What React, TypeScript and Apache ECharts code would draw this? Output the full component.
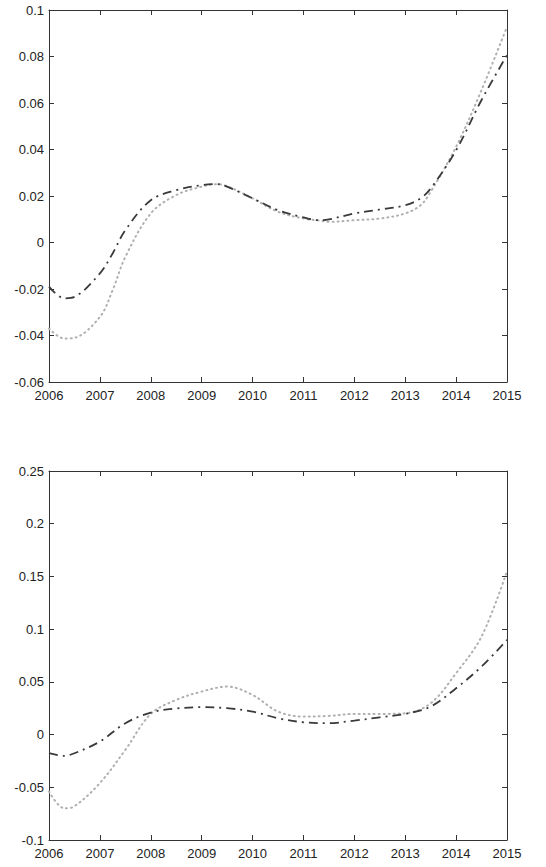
import React, { useEffect, useRef } from "react";
import * as echarts from "echarts";

const xTicks = [2006, 2007, 2008, 2009, 2010, 2011, 2012, 2013, 2014, 2015];

const topYears = [2006, 2006.3, 2006.5, 2007, 2007.25, 2007.5, 2008, 2008.5, 2009, 2009.3, 2009.5, 2010, 2010.5, 2011, 2011.3, 2011.5, 2012, 2012.5, 2013, 2013.3, 2013.5, 2014, 2014.5, 2015];
const topDashDot = [-0.019, -0.024, -0.0234, -0.0133, -0.0047, 0.0053, 0.0182, 0.0225, 0.0247, 0.0251, 0.024, 0.019, 0.0139, 0.0108, 0.0096, 0.0099, 0.0125, 0.0142, 0.016, 0.019, 0.0232, 0.0397, 0.0613, 0.0806];
const topDotted = [-0.037, -0.0413, -0.041, -0.032, -0.0205, -0.0062, 0.0125, 0.0204, 0.024, 0.0251, 0.0242, 0.019, 0.0132, 0.0103, 0.0095, 0.0089, 0.0096, 0.0103, 0.0125, 0.016, 0.0218, 0.0412, 0.0656, 0.0928];

const botYears = [2006, 2006.3, 2006.5, 2007, 2007.5, 2008, 2008.5, 2009, 2009.5, 2010, 2010.5, 2011, 2011.5, 2012, 2012.5, 2013, 2013.5, 2014, 2014.5, 2015];
const botDashDot = [-0.0177, -0.0202, -0.0177, -0.0066, 0.0108, 0.0209, 0.0247, 0.026, 0.025, 0.0218, 0.0155, 0.0117, 0.0108, 0.0133, 0.0164, 0.0196, 0.0266, 0.044, 0.0645, 0.0898];
const botDotted = [-0.054, -0.0699, -0.068, -0.046, -0.0145, 0.0196, 0.0329, 0.0408, 0.0455, 0.0376, 0.0218, 0.0171, 0.0177, 0.0196, 0.0196, 0.0202, 0.0297, 0.0582, 0.093, 0.155];

const topYTickLabels = ["-0.06", "-0.04", "-0.02", "0", "0.02", "0.04", "0.06", "0.08", "0.1"];
const botYTickLabels = ["-0.1", "-0.05", "0", "0.05", "0.1", "0.15", "0.2", "0.25"];

const FONT = "'Liberation Sans', Arial, sans-serif";
const AXIS_COLOR = "#333";
const DASHDOT_COLOR = "#3a3a3a";
const DOTTED_COLOR = "#b0b0b0";

function pair(xs: number[], ys: number[]) {
  return xs.map((x, i) => [x, ys[i]]);
}

export default function App() {
  const ref = useRef<HTMLDivElement>(null);
  useEffect(() => {
    if (!ref.current) return;
    const chart = echarts.init(ref.current, undefined, { renderer: "svg" });
    const grids = [
      { left: 49, top: 10, width: 458, height: 372 },
      { left: 49, top: 471, width: 458, height: 369 },
    ];
    const yDefs = [
      { min: -0.06, max: 0.1, interval: 0.02, labels: topYTickLabels },
      { min: -0.1, max: 0.25, interval: 0.05, labels: botYTickLabels },
    ];
    const line = { show: true, onZero: false, lineStyle: { color: AXIS_COLOR, width: 1 } };
    const tick = { show: true, inside: true, length: 5, lineStyle: { color: AXIS_COLOR } };
    const xAxis: any[] = [];
    const yAxis: any[] = [];
    grids.forEach((_, gi) => {
      xAxis.push({
        type: "value", gridIndex: gi, min: 2006, max: 2015, interval: 1, position: "bottom",
        axisLine: line, axisTick: tick,
        axisLabel: { show: true, margin: 7, color: "#222", fontSize: 13, fontFamily: FONT,
          formatter: (v: number) => String(xTicks.find((t) => Math.abs(t - v) < 1e-6) ?? "") },
        splitLine: { show: false },
      });
      xAxis.push({
        type: "value", gridIndex: gi, min: 2006, max: 2015, interval: 1, position: "top",
        axisLine: line, axisTick: tick,
        axisLabel: { show: false }, splitLine: { show: false },
      });
      const yd = yDefs[gi];
      const fmt = (v: number) => {
        const idx = Math.round((v - yd.min) / yd.interval);
        return yd.labels[idx] ?? "";
      };
      yAxis.push({
        type: "value", gridIndex: gi, min: yd.min, max: yd.max, interval: yd.interval, position: "left",
        axisLine: line, axisTick: tick,
        axisLabel: { show: true, margin: 5, color: "#222", fontSize: 13, fontFamily: FONT, formatter: fmt },
        splitLine: { show: false },
      });
      yAxis.push({
        type: "value", gridIndex: gi, min: yd.min, max: yd.max, interval: yd.interval, position: "right",
        axisLine: line, axisTick: tick,
        axisLabel: { show: false }, splitLine: { show: false },
      });
    });
    const mk = (data: number[][], gi: number, dotted: boolean) => ({
      type: "line",
      xAxisIndex: gi * 2,
      yAxisIndex: gi * 2,
      data,
      smooth: 0.35,
      showSymbol: false,
      symbol: "none",
      z: dotted ? 2 : 3,
      lineStyle: dotted
        ? { color: DOTTED_COLOR, width: 2, type: [1, 4], cap: "round" }
        : { color: DASHDOT_COLOR, width: 1.8, type: [9, 5, 2, 5] },
    });
    chart.setOption({
      animation: false,
      backgroundColor: "#fff",
      grid: grids,
      xAxis,
      yAxis,
      series: [
        mk(pair(topYears, topDotted), 0, true),
        mk(pair(topYears, topDashDot), 0, false),
        mk(pair(botYears, botDotted), 1, true),
        mk(pair(botYears, botDashDot), 1, false),
      ],
    });
    return () => chart.dispose();
  }, []);
  return (
    <div
      ref={ref}
      style={{ position: "absolute", left: 0, top: 0, width: 546, height: 867, background: "#fff" }}
    />
  );
}
